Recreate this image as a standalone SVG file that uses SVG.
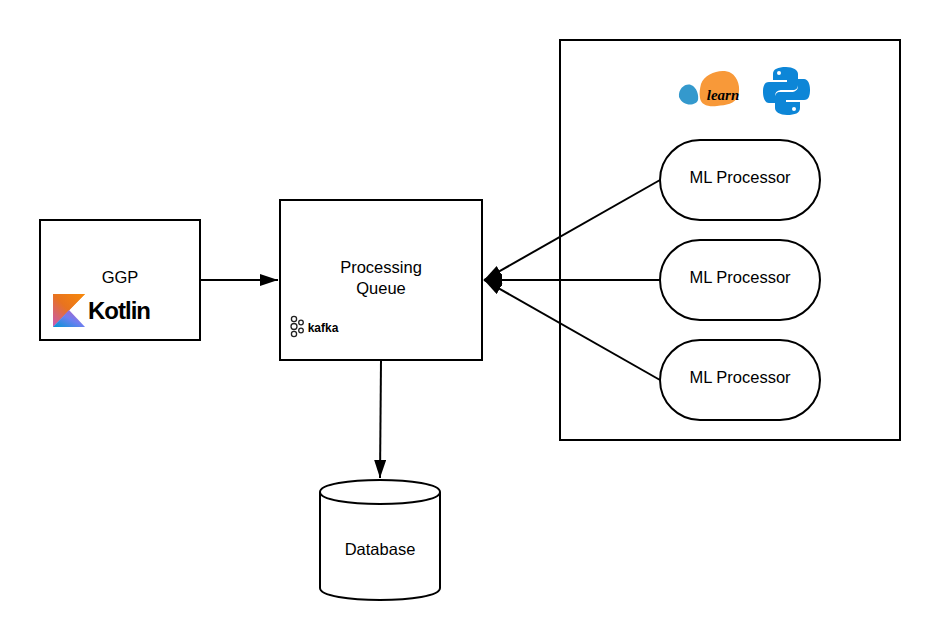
<svg xmlns="http://www.w3.org/2000/svg" width="940" height="640" viewBox="0 0 940 640">
<defs>
<style>
.b{fill:#fff;stroke:#000;stroke-width:2}
.c{fill:none;stroke:#000;stroke-width:2}
text{font-family:"Liberation Sans",Arial,sans-serif;font-size:16.5px;fill:#000;text-anchor:middle}
</style>
<marker id="a" markerUnits="userSpaceOnUse" markerWidth="20" markerHeight="14" refX="18" refY="6" orient="auto"><path d="M0 0L18 6L0 12Z" fill="#000"/></marker>
<linearGradient id="k1" x1="0" y1="1" x2="1" y2="0"><stop offset="0" stop-color="#c757bc"/><stop offset=".5" stop-color="#e8731f"/><stop offset="1" stop-color="#f88909"/></linearGradient>
<linearGradient id="k2" x1="0" y1="1" x2="1" y2="0"><stop offset="0" stop-color="#0095d5"/><stop offset=".5" stop-color="#6d7ff0"/><stop offset="1" stop-color="#c757bc"/></linearGradient>
</defs>
<rect width="940" height="640" fill="#fff"/>
<g id="ml-container"><rect class="b" x="560" y="40" width="340" height="400"/>
<path d="M679 97C678 88 686 83 691 85C697 87 699 96 698 100C696 106 683 107 679 97Z" fill="#3499cd"/>
<path d="M701 84C705 73 722 68 731 73C738 77 741 88 738 96C735 104 726 105 717 106C708 107 701 105 700 98C699 93 700 88 701 84Z" fill="#f89939"/>
<text x="723" y="100" style="font-family:'Liberation Serif',serif;font-style:italic;font-size:15px;font-weight:bold">learn</text>
<path d="M786 67C778 67 773 69 773 74V80H787V82H769C764 82 763 87 763 92C763 98 765 103 769 103H775V96C775 92 778 90 782 90H793C796 90 798 88 798 85V74C798 70 793 67 786 67Z" fill="#0d86d7"/>
<path d="M787 115C795 115 800 113 800 108V102H786V100H804C809 100 810 95 810 90C810 84 808 79 804 79H798V86C798 90 795 92 791 92H780C777 92 775 94 775 97V108C775 112 780 115 787 115Z" fill="#0d86d7"/>
<circle cx="779" cy="73" r="2" fill="#fff"/><circle cx="794" cy="109" r="2" fill="#fff"/></g>
<g id="connectors">
<path class="c" d="M200 280H278" marker-end="url(#a)"/>
<path class="c" d="M381 360L380 478" marker-end="url(#a)"/>
<path class="c" d="M660 180L484 280" marker-end="url(#a)"/>
<path class="c" d="M660 280H484" marker-end="url(#a)"/>
<path class="c" d="M660 380L484 280" marker-end="url(#a)"/>
</g>
<g id="ggp"><rect class="b" x="40" y="220" width="160" height="120"/><text x="120" y="283">GGP</text>
<path d="M53 294H85L53 327Z" fill="url(#k1)"/><path d="M85 294L69 310L53 327H53V294Z" fill="url(#k1)"/>
<path d="M53 327L69 310L85 327Z" fill="url(#k2)"/>
<text x="119" y="319" style="font-size:24px;font-weight:bold;letter-spacing:-1px">Kotlin</text></g>
<g id="queue"><rect class="b" x="280" y="200" width="202" height="160"/>
<text x="381" y="273">Processing</text><text x="381" y="294">Queue</text>
<g fill="none" stroke="#222" stroke-width="1.3"><circle cx="294" cy="319" r="2.6"/><circle cx="294" cy="334" r="2.6"/><circle cx="294" cy="326.500" r="3"/><circle cx="301" cy="322.500" r="2.300"/><circle cx="301" cy="330.500" r="2.300"/></g>
<text x="323" y="332" style="font-size:12px;font-weight:bold">kafka</text></g>
<g id="ml1"><rect class="b" x="660" y="140" width="160" height="80" rx="40" ry="40"/><text x="740" y="183">ML Processor</text></g>
<g id="ml2"><rect class="b" x="660" y="240" width="160" height="80" rx="40" ry="40"/><text x="740" y="283">ML Processor</text></g>
<g id="ml3"><rect class="b" x="660" y="340" width="160" height="80" rx="40" ry="40"/><text x="740" y="383">ML Processor</text></g>
<g id="database"><path class="b" d="M320 492C320 476 440 476 440 492V588C440 604 320 604 320 588Z"/><path class="c" d="M320 492C320 508 440 508 440 492"/><text x="380" y="555">Database</text></g>
</svg>
